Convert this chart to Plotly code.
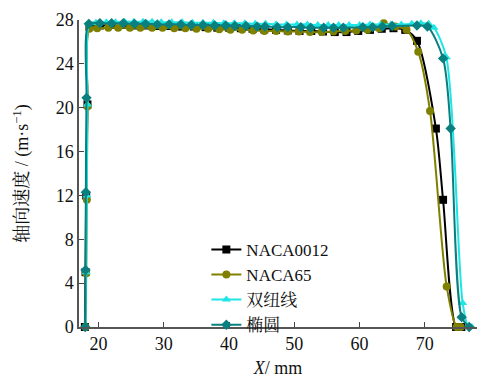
import plotly.graph_objects as go

# Axial velocity profiles along X for four blade profiles
x_naca0012 = [17.9, 18.0, 18.1, 18.3, 18.6, 20.2, 22.0, 23.8, 25.6, 27.4, 29.2, 31.0, 32.8, 34.6,
              36.4, 38.2, 40.0, 41.8, 43.6, 45.4, 47.2, 49.0, 50.8, 52.6, 54.4, 56.2, 58.0, 59.8,
              61.6, 63.4, 65.2, 67.0, 68.8, 71.7, 72.8, 74.8, 75.6]
y_naca0012 = [0, 5.0, 12.0, 20.3, 27.4, 27.5, 27.55, 27.55, 27.5, 27.5, 27.45, 27.45, 27.4, 27.4,
              27.35, 27.3, 27.3, 27.25, 27.2, 27.15, 27.1, 27.05, 27.0, 27.0, 26.95, 26.9, 26.9, 27.0,
              27.1, 27.2, 27.25, 27.1, 26.1, 18.1, 11.6, 0, 0]

x_naca65 = [18.0, 18.1, 18.2, 18.3, 18.6, 19.8, 21.5, 23.0, 24.8, 26.4, 28.2, 29.8, 31.6, 33.3,
            35.0, 36.8, 38.5, 40.2, 42.0, 43.7, 45.4, 47.2, 49.0, 50.7, 52.4, 54.2, 56.0, 57.8,
            59.5, 61.2, 63.0, 63.7, 65.5, 67.2, 69.0, 70.8, 73.35, 74.9, 75.5]
y_naca65 = [0, 4.9, 11.6, 20.1, 27.2, 27.25, 27.3, 27.3, 27.3, 27.3, 27.3, 27.3, 27.25, 27.25,
            27.2, 27.2, 27.15, 27.1, 27.1, 27.05, 27.0, 27.0, 26.95, 26.95, 26.9, 26.9, 26.95, 27.0,
            27.05, 27.1, 27.25, 27.7, 27.4, 27.1, 25.1, 19.7, 3.7, 0, 0]

x_lemn = [18.0, 18.1, 18.2, 18.3, 18.6, 19.6, 21.2, 22.6, 24.0, 25.4, 26.8, 28.2, 29.6, 31.2,
          32.8, 34.4, 36.0, 37.6, 39.2, 40.8, 42.4, 44.0, 45.6, 47.2, 48.8, 50.4, 52.0, 53.6,
          55.2, 56.8, 58.4, 60.0, 61.6, 63.2, 64.8, 66.4, 68.0, 69.4, 70.6, 71.4, 73.3,
          75.8, 76.7, 77.2]
y_lemn = [0, 5.0, 12.0, 20.3, 27.7, 27.75, 27.8, 27.8, 27.85, 27.85, 27.85, 27.85, 27.8, 27.8,
          27.8, 27.75, 27.75, 27.75, 27.7, 27.7, 27.7, 27.65, 27.65, 27.6, 27.6, 27.6, 27.6, 27.55,
          27.55, 27.55, 27.55, 27.55, 27.6, 27.6, 27.6, 27.6, 27.65, 27.7, 27.65, 27.3, 24.6,
          2.2, 0, 0]

x_ellipse = [17.95, 18.0, 18.05, 18.15, 18.5, 20.2, 22.0, 23.8, 25.5, 27.2, 29.0, 30.8, 32.6, 34.2,
             36.0, 37.8, 39.5, 40.9, 42.6, 44.3, 45.5, 47.4, 49.0, 51.0, 52.5, 54.5, 56.0, 57.5,
             60.5, 62.0, 63.5, 65.0, 68.8, 70.4, 72.8, 73.96, 75.65, 76.8]
y_ellipse = [0, 5.2, 12.3, 20.9, 27.65, 27.7, 27.7, 27.7, 27.65, 27.65, 27.6, 27.6, 27.6, 27.55,
             27.55, 27.5, 27.5, 27.45, 27.45, 27.4, 27.4, 27.35, 27.35, 27.35, 27.3, 27.3, 27.3, 27.3,
             27.35, 27.35, 27.4, 27.45, 27.5, 27.4, 24.5, 18.1, 0.9, 0]

x_ticks = [20, 30, 40, 50, 60, 70]
y_ticks = [0, 4, 8, 12, 16, 20, 24, 28]

series = [
    ("NACA0012", x_naca0012, y_naca0012, "#000000", "square"),
    ("NACA65", x_naca65, y_naca65, "#808000", "circle"),
    ("双纽线", x_lemn, y_lemn, "#1EE6E6", "triangle-up"),
    ("椭圆", x_ellipse, y_ellipse, "#0A7F7F", "diamond"),
]

SERIF = "'Times New Roman', 'Liberation Serif', 'Noto Serif CJK SC', serif"

fig = go.Figure()
for name, xs, ys, color, sym in series:
    fig.add_trace(go.Scatter(
        x=xs, y=ys, name=name, mode="lines+markers",
        line=dict(color=color, width=2, shape="spline", smoothing=0.8),
        marker=dict(color=color, symbol=sym, size=8),
        cliponaxis=False,
    ))

fig.update_layout(
    width=487, height=385,
    margin=dict(l=79, r=10, t=16, b=48),
    paper_bgcolor="white", plot_bgcolor="white",
    font=dict(family=SERIF, size=18, color="#111111"),
    showlegend=True,
    legend=dict(
        x=0.32, y=0.31, xanchor="left", yanchor="top",
        bgcolor="rgba(0,0,0,0)", borderwidth=0,
        font=dict(family=SERIF, size=17),
        tracegroupgap=0,
    ),
    xaxis=dict(
        range=[17, 78], tickvals=x_ticks, ticks="inside", ticklen=5, tickwidth=1,
        tickcolor="#444", showline=True, linecolor="#555", linewidth=1.5,
        showgrid=False, zeroline=False, tickfont=dict(family=SERIF, size=18),
        title=dict(text="<i>X</i>/ mm", font=dict(family=SERIF, size=18), standoff=8),
    ),
    yaxis=dict(
        range=[0, 28], tickvals=y_ticks, ticks="inside", ticklen=5, tickwidth=1,
        tickcolor="#444", showline=True, linecolor="#555", linewidth=1.5,
        showgrid=False, zeroline=False, tickfont=dict(family=SERIF, size=18),
        title=dict(text="轴向速度 / (m·s<sup>−1</sup>)",
                   font=dict(family=SERIF, size=18), standoff=22),
    ),
)

fig.write_html("out.html")
